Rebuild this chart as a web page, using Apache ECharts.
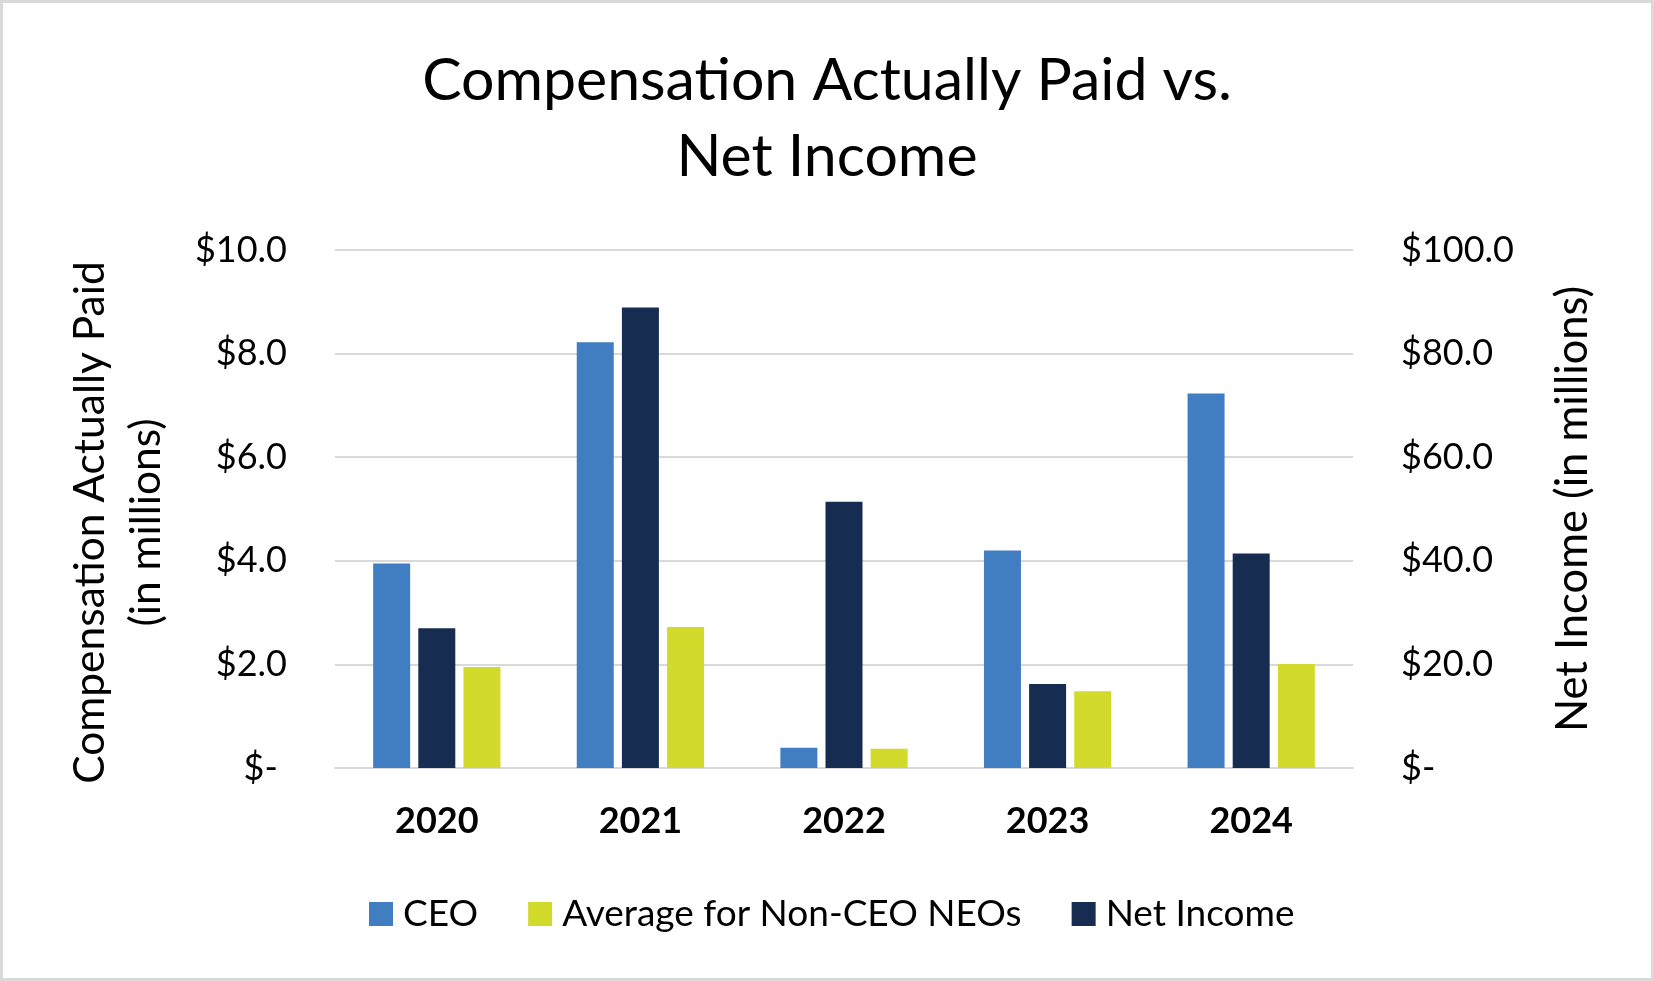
<!DOCTYPE html>
<html>
<head>
<meta charset="utf-8">
<script src="https://cdn.jsdelivr.net/npm/echarts@6/dist/echarts.min.js"></script>
<style>
html,body{margin:0;padding:0;background:#fff;}
#chart{width:1654px;height:981px;}
</style>
</head>
<body>
<div id="chart"></div>
<script>
const years = ['2020', '2021', '2022', '2023', '2024'];
const ceo = [3.95, 8.22, 0.39, 4.20, 7.23];
const nonCeoNeos = [1.95, 2.72, 0.37, 1.48, 2.01];
const netIncome = [27.0, 88.9, 51.4, 16.2, 41.4];
const leftTicks = { min: 0, max: 10, interval: 2 };
const rightTicks = { min: 0, max: 100, interval: 20 };

const FONT = 'Lato';
const fmt = v => (v === 0 ? '$- ' : '$' + v.toFixed(1));

const chart = echarts.init(document.getElementById('chart'), null, { renderer: 'canvas' });
chart.setOption({
  backgroundColor: '#fff',
  textStyle: { fontFamily: FONT, color: '#000' },
  graphic: [{
    type: 'rect',
    shape: { x: 1.5, y: 1.5, width: 1651, height: 978 },
    style: { fill: null, stroke: '#d9d9d9', lineWidth: 3 },
    silent: true
  }],
  title: {
    text: 'Compensation Actually Paid vs.\nNet Income',
    left: 'center',
    top: 38,
    textStyle: { fontFamily: FONT, fontSize: 59, fontWeight: 'normal', color: '#000', lineHeight: 76 }
  },
  legend: {
    data: ['CEO', 'Average for Non-CEO NEOs', 'Net Income'],
    left: 364,
    top: 889,
    icon: 'rect',
    itemWidth: 24,
    itemHeight: 24,
    itemGap: 50,
    textStyle: { fontFamily: FONT, fontSize: 37, color: '#000', lineHeight: 40, padding: [0, 0, 0, 5] }
  },
  grid: { left: 335, right: 301, top: 250, bottom: 213, containLabel: false },
  xAxis: {
    type: 'category',
    data: years,
    axisTick: { show: false },
    axisLine: { lineStyle: { color: '#d9d9d9', width: 2 } },
    axisLabel: { fontFamily: FONT, fontSize: 36, fontWeight: 'bold', color: '#000', margin: 35 }
  },
  yAxis: [{
    type: 'value',
    min: leftTicks.min, max: leftTicks.max, interval: leftTicks.interval,
    axisLine: { show: false },
    axisTick: { show: false },
    splitLine: { lineStyle: { color: '#d9d9d9', width: 2 } },
    axisLabel: { fontFamily: FONT, fontSize: 36, color: '#000', margin: 48, formatter: fmt },
    name: 'Compensation Actually Paid\n(in millions)',
    nameLocation: 'middle',
    nameRotate: 90,
    nameGap: 161,
    nameTextStyle: { fontFamily: FONT, fontSize: 42.5, color: '#000', lineHeight: 56, padding: [0, 27, 0, 0] }
  }, {
    type: 'value',
    position: 'right',
    min: rightTicks.min, max: rightTicks.max, interval: rightTicks.interval,
    axisLine: { show: false },
    axisTick: { show: false },
    splitLine: { show: false },
    axisLabel: { fontFamily: FONT, fontSize: 36, color: '#000', margin: 48, formatter: fmt },
    name: 'Net Income (in millions)',
    nameLocation: 'middle',
    nameRotate: 90,
    nameGap: 198,
    nameTextStyle: { fontFamily: FONT, fontSize: 43.5, color: '#000' }
  }],
  series: [{
    name: 'CEO',
    type: 'bar',
    yAxisIndex: 0,
    data: ceo,
    barWidth: 37,
    itemStyle: { color: '#407DC1' }
  }, {
    name: 'Net Income',
    type: 'bar',
    yAxisIndex: 1,
    data: netIncome,
    barWidth: 37,
    itemStyle: { color: '#162C50' }
  }, {
    name: 'Average for Non-CEO NEOs',
    type: 'bar',
    yAxisIndex: 0,
    data: nonCeoNeos,
    barWidth: 37,
    barGap: '22%',
    itemStyle: { color: '#D2DA2C' }
  }],
  animation: false
});
</script>
</body>
</html>
